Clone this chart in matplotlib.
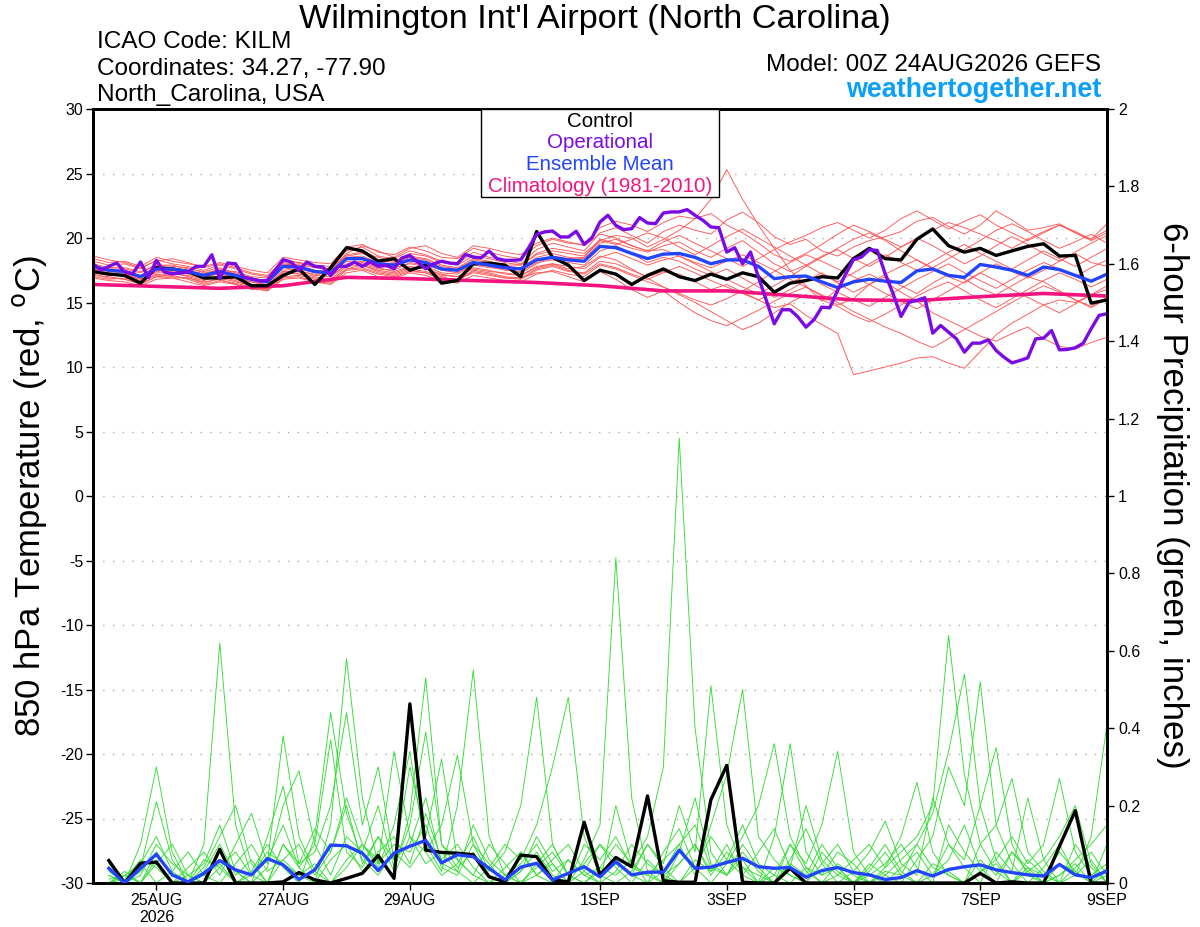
"""
GEFS meteogram for Wilmington Int'l Airport: 850 hPa temperature plumes
(red) and 6-hour precipitation plumes (green) with control, operational,
ensemble mean and climatology.
"""

import matplotlib
matplotlib.use("Agg")

import matplotlib.pyplot as plt
from matplotlib.patches import Rectangle
from matplotlib.ticker import FuncFormatter, MultipleLocator
import numpy as np

plt.rcParams["font.family"] = ["Liberation Sans", "DejaVu Sans"]
plt.rcParams["axes.unicode_minus"] = False

# ---------------------------------------------------------------------------
# Data (forecast hours from 00Z 24AUG2026)
# ---------------------------------------------------------------------------
tick_hours = [24, 72, 120, 192, 240, 288, 336, 384]
tick_labels = ["25AUG\n2026", "27AUG", "29AUG", "1SEP", "3SEP", "5SEP", "7SEP", "9SEP"]

# 850 hPa temperature, 6-hourly 00Z 24AUG -> 00Z 9SEP
control_temp = [
    17.4, 17.2, 17.1, 16.5, 17.7, 17.6, 17.4, 16.9, 16.9, 17.0, 16.3, 16.3, 17.1,
    17.6, 16.4, 17.7, 19.25, 19.0, 18.2, 18.4, 17.5, 17.9, 16.5, 16.7, 18.0,
    18.05, 17.9, 17.0, 20.5, 18.5, 17.9, 16.7, 17.5, 17.2, 16.4, 17.1, 17.6, 17.0,
    16.7, 17.2, 16.8, 17.3, 17.0, 15.8, 16.5,
    16.7, 17.0, 16.9, 18.4, 19.2, 18.4, 18.3, 19.9, 20.7, 19.4, 18.9, 19.2, 18.65,
    19.0, 19.35, 19.55, 18.6, 18.65, 14.95, 15.2,
]
mean_temp = [
    17.8, 17.5, 17.4, 17.0, 17.6, 17.6, 17.4, 17.1, 17.4, 17.1, 16.8, 16.6, 17.8,
    17.75, 17.4, 17.3, 18.4, 18.4, 18.0, 17.9, 18.3, 18.1, 17.6, 17.5, 18.1,
    17.9, 17.7, 17.6, 18.3, 18.5, 18.3, 18.2, 19.35, 19.25, 18.8, 18.4, 18.75, 18.8,
    18.5, 18.0, 18.3, 18.3, 17.8, 16.85, 17.0,
    17.05, 16.6, 16.15, 16.6, 16.8, 16.65, 16.55, 17.45, 17.6, 17.1, 16.95, 17.95,
    17.75, 17.5, 17.1, 17.75, 17.55, 17.1, 16.65, 17.2,
]
# operational run, 3-hourly
oper_temp = [
    18.0, 17.5, 17.8, 18.06, 17.36, 17.23, 18.14, 16.92, 18.27, 17.36, 17.23, 17.28,
    17.36, 17.8, 17.8, 18.7, 16.84, 18.06, 18.0, 16.97, 16.84, 16.66, 16.71, 17.49,
    18.32, 18.14, 17.49, 18.14, 17.8, 17.75, 17.1, 17.8, 17.8, 18.14, 17.8, 18.14,
    17.8, 17.88, 17.62, 18.45, 18.65, 18.14, 17.62, 18.0, 18.2, 18.06, 18.0, 18.73,
    18.52,
    18.47, 18.99, 18.4, 18.27, 18.27, 18.32, 19.25, 20.28, 20.47, 20.54,
    20.08, 20.08, 20.52, 19.51, 20.03, 21.24, 21.76, 20.98, 20.65, 20.72,
    21.58, 21.16, 21.11, 21.94, 22.02, 22.02, 22.2, 21.76, 21.37, 20.85,
    20.8, 18.91, 19.25, 18.0, 18.91, 16.97, 15.16, 13.35, 14.44, 14.44,
    13.87, 13.09, 13.66, 14.64, 14.59, 15.94, 17.2, 18.32, 18.52, 19.09,
    19.04, 17.23, 15.68, 13.92, 15.03, 15.16, 15.37, 12.62, 13.22, 12.7,
    12.18, 11.15, 11.85, 11.85, 12.1, 11.28, 10.76, 10.32, 10.5, 10.71,
    12.18, 12.24, 12.83, 11.33, 11.36, 11.49, 11.85, 12.96, 14.0, 14.13,
]
# climatology (1981-2010), daily 00Z
clim_temp = [16.4, 16.25, 16.1, 16.3, 16.95, 16.85, 16.7, 16.55, 16.3,
             15.9, 15.9, 15.55, 15.2, 15.15, 15.45, 15.7, 15.5]

# ensemble members, 6-hourly (values estimated from the plumes)
member_temp = [
    [18.2, 17.9, 18.0, 17.6, 18.3, 18.0, 17.8, 17.5, 17.9, 17.6, 17.2, 17.0, 18.3,
     18.1, 17.9, 17.8, 19.0, 19.3, 18.6, 18.4, 19.0, 18.7, 18.2, 18.0, 18.9,
     18.5, 18.3, 18.0, 19.1, 19.6, 19.3, 19.0, 20.4, 20.8, 20.2, 19.6, 20.5, 21.0, 20.6, 20.3, 21.4,
     22.0, 21.2, 20.1, 19.5, 19.9, 19.0, 18.6, 19.3, 19.8, 20.1, 20.5, 21.3, 21.6, 20.9, 20.3, 21.0,
     22.1, 21.4, 20.6, 20.8, 21.1, 20.4, 19.9, 21.1],
    [17.2, 16.9, 16.8, 16.4, 17.0, 17.1, 16.8, 16.4, 16.7, 16.5, 16.2, 15.9, 16.9,
     17.0, 16.6, 16.5, 17.5, 17.6, 17.2, 17.0, 17.4, 17.3, 16.9, 16.8, 17.3,
     17.1, 16.9, 16.8, 17.5, 17.8, 17.4, 17.3, 18.2, 18.0, 17.5, 17.0, 17.4, 17.2, 16.6, 16.0, 16.4,
     15.8, 15.2, 14.6, 14.9, 14.0, 13.3, 12.6, 9.4, 9.7, 10.0, 10.3, 10.7, 10.8, 10.3, 9.9, 11.2,
     12.5, 13.4, 14.1, 14.8, 15.2, 15.0, 15.6, 16.0],
    [17.6, 17.4, 17.3, 16.9, 17.5, 17.4, 17.2, 16.9, 17.3, 17.0, 16.6, 16.4, 17.7,
     17.5, 17.1, 17.0, 18.0, 18.2, 17.8, 17.7, 18.0, 17.8, 17.3, 17.2, 17.9,
     17.7, 17.6, 17.3, 18.0, 18.6, 18.4, 18.5, 19.8, 20.2, 20.0, 19.3, 19.9, 20.6, 21.5, 23.0, 25.3,
     23.0, 21.0, 19.2, 17.5, 16.3, 15.1, 16.0, 16.7, 17.2, 16.6, 15.8, 15.1, 14.2, 13.6, 13.0, 12.4,
     12.0, 12.6, 13.1, 12.2, 11.6, 11.4, 11.9, 12.3],
    [17.0, 16.8, 16.9, 16.6, 17.2, 17.0, 16.9, 16.6, 16.8, 16.4, 16.0, 16.1, 17.2,
     17.3, 17.0, 16.7, 17.6, 17.9, 17.4, 17.2, 17.6, 17.4, 17.0, 16.7, 17.4,
     17.2, 16.9, 16.9, 17.3, 17.4, 17.0, 16.6, 17.4, 16.8, 16.0, 15.4, 15.9, 15.0, 14.2, 13.6, 13.2,
     13.8, 14.4, 15.1, 15.7, 16.2, 15.5, 14.8, 15.3, 16.4, 17.2, 17.8, 18.3, 17.6, 17.0, 16.5, 17.3,
     18.0, 17.4, 16.9, 17.5, 18.2, 18.8, 18.1, 17.8],
    [17.9, 17.6, 17.6, 17.3, 17.9, 17.8, 17.7, 17.3, 17.5, 17.4, 17.0, 16.9, 18.1,
     17.9, 17.7, 17.5, 18.6, 18.8, 18.3, 18.1, 18.6, 18.4, 17.9, 17.7, 18.4,
     18.2, 17.9, 17.9, 18.7, 19.0, 18.8, 18.6, 19.9, 19.6, 19.2, 18.9, 19.4, 19.7, 19.0, 18.5, 19.2,
     19.8, 18.9, 18.0, 17.4, 17.9, 18.6, 19.1, 18.4, 17.8, 18.5, 19.3, 20.0, 19.4, 18.7, 18.0, 18.6,
     19.4, 20.1, 19.5, 18.8, 18.2, 18.9, 19.6, 20.2],
    [17.5, 17.3, 17.1, 16.8, 17.4, 17.5, 17.3, 17.0, 17.2, 16.9, 16.6, 16.3, 17.5,
     17.6, 17.3, 17.2, 18.2, 18.0, 17.6, 17.5, 18.1, 17.9, 17.5, 17.3, 18.0,
     17.8, 17.5, 17.4, 18.1, 18.3, 18.1, 17.9, 19.0, 19.4, 18.8, 18.1, 18.5, 18.2, 17.6, 17.1, 17.6,
     16.9, 16.2, 15.4, 16.0, 16.7, 17.3, 16.5, 15.8, 16.4, 17.0, 16.3, 15.7, 16.5, 17.2, 16.8, 16.1,
     15.6, 16.3, 17.0, 16.6, 15.9, 15.2, 14.6, 15.3],
    [18.4, 18.1, 18.2, 17.8, 18.5, 18.2, 18.0, 17.8, 18.1, 17.8, 17.5, 17.3, 18.5,
     18.3, 18.1, 18.0, 19.3, 19.5, 18.9, 18.7, 19.3, 19.0, 18.5, 18.4, 19.2,
     18.9, 18.6, 18.4, 19.4, 19.9, 19.6, 19.5, 20.8, 21.3, 21.0, 20.5, 21.2, 21.7, 21.5, 21.9, 21.0,
     20.4, 19.6, 18.7, 18.2, 18.8, 19.5, 20.3, 21.0, 20.5, 19.9, 19.3, 19.9, 20.6, 21.2, 20.8, 20.3,
     19.8, 19.2, 19.9, 20.5, 21.0, 20.4, 19.8, 20.4],
    [17.3, 17.1, 17.2, 16.8, 17.3, 17.3, 17.0, 16.7, 17.1, 16.8, 16.4, 16.2, 17.4,
     17.4, 17.2, 17.0, 17.9, 18.1, 17.7, 17.4, 17.8, 17.6, 17.2, 17.0, 17.6,
     17.4, 17.3, 17.1, 17.8, 18.0, 17.6, 17.8, 18.6, 18.3, 17.6, 16.9, 16.2, 15.6, 15.0, 14.3, 13.6,
     12.9, 13.4, 14.2, 15.0, 15.6, 15.2, 14.7, 14.0, 13.5, 14.1, 14.8, 15.5, 16.1, 16.6, 15.9, 15.2,
     14.6, 15.3, 16.0, 16.7, 17.3, 16.8, 16.2, 16.8],
    [17.7, 17.5, 17.5, 17.1, 17.8, 17.7, 17.5, 17.2, 17.6, 17.3, 16.9, 16.7, 18.0,
     17.8, 17.5, 17.4, 18.5, 18.6, 18.1, 18.0, 18.5, 18.3, 17.8, 17.6, 18.3,
     18.1, 17.8, 17.7, 18.5, 18.8, 18.5, 18.4, 19.6, 19.9, 19.4, 19.0, 19.1, 18.6, 18.0, 17.4, 16.8,
     16.2, 15.7, 16.3, 17.0, 17.8, 18.5, 19.2, 19.9, 20.4, 19.8, 19.0, 18.3, 17.7, 18.4, 19.1, 19.8,
     20.6, 21.1, 20.5, 19.8, 19.2, 19.7, 20.3, 19.6],
    [16.9, 16.7, 16.6, 16.3, 16.8, 16.9, 16.6, 16.3, 16.6, 16.4, 16.1, 15.9, 16.8,
     16.9, 16.6, 16.4, 17.3, 17.5, 17.0, 16.9, 17.3, 17.1, 16.7, 16.5, 17.1,
     16.9, 16.7, 16.6, 17.2, 17.5, 17.2, 17.0, 17.9, 17.6, 17.1, 16.6, 16.2, 15.7, 15.2, 14.8, 15.3,
     15.9, 16.6, 17.4, 18.1, 18.7, 18.2, 17.6, 17.0, 16.4, 15.7, 15.1, 14.5, 15.2, 15.9, 16.6, 17.3,
     16.7, 16.0, 15.4, 14.8, 14.2, 14.9, 15.6, 16.3],
    [18.6, 18.3, 18.1, 17.7, 18.2, 18.4, 18.1, 17.7, 18.0, 17.7, 17.3, 17.1, 18.2,
     18.1, 17.8, 17.6, 18.8, 19.4, 19.0, 18.5, 19.2, 19.4, 18.8, 18.5, 19.4,
     19.2, 18.9, 18.7, 19.6, 20.0, 19.7, 19.4, 20.3, 20.0, 19.4, 19.0, 19.7, 20.2, 19.6, 19.0, 18.4,
     17.8, 18.4, 19.1, 19.7, 20.2, 20.8, 21.2, 20.6, 20.0, 20.6, 21.5, 22.1, 21.4, 20.7, 21.3, 21.8,
     21.0, 20.4, 19.8, 20.4, 21.0, 20.5, 19.9, 20.6],
    [17.4, 17.2, 17.0, 16.7, 17.1, 17.2, 17.1, 16.8, 17.0, 16.7, 16.3, 16.1, 17.3,
     17.2, 16.9, 16.8, 17.8, 17.9, 17.5, 17.3, 17.7, 17.6, 17.1, 17.0, 17.7,
     17.5, 17.2, 17.1, 17.7, 18.0, 17.8, 17.6, 18.5, 18.9, 18.4, 17.9, 18.3, 18.6, 18.1, 17.7, 18.2,
     18.7, 18.1, 17.5, 16.8, 16.2, 15.6, 15.0, 14.3, 13.7, 13.1, 12.6, 12.0, 11.5, 12.2, 12.9, 13.6,
     14.3, 15.0, 15.7, 16.3, 15.8, 15.2, 14.7, 15.4],
    [18.0, 17.7, 17.7, 17.4, 17.9, 17.9, 17.6, 17.4, 17.7, 17.2, 16.8, 16.6, 17.9,
     18.0, 17.8, 17.6, 18.7, 18.9, 18.5, 18.2, 18.8, 18.6, 18.1, 17.9, 18.6,
     18.4, 18.1, 17.9, 18.8, 19.2, 19.0, 18.8, 19.8, 19.5, 19.9, 20.4, 20.0, 19.3, 18.7, 19.4, 20.1,
     20.7, 20.0, 19.3, 18.6, 17.9, 17.2, 16.6, 17.3, 18.0, 18.7, 18.1, 17.5, 18.2, 18.9, 19.5, 18.8,
     18.2, 17.6, 18.3, 19.0, 18.4, 17.8, 18.5, 19.2],
    [17.1, 17.0, 16.8, 16.5, 17.0, 16.9, 16.9, 16.5, 16.9, 16.6, 16.3, 16.0, 17.0,
     17.1, 16.8, 16.6, 17.6, 17.7, 17.3, 17.1, 17.5, 17.3, 16.8, 16.7, 17.5,
     17.3, 17.0, 16.9, 17.6, 17.9, 17.5, 17.2, 18.0, 17.7, 17.2, 16.8, 17.3, 17.8, 17.3, 16.7, 16.2,
     15.7, 15.2, 15.8, 16.5, 17.1, 16.4, 15.8, 15.2, 14.7, 15.4, 16.1, 16.8, 17.4, 18.0, 17.3, 16.7,
     16.1, 16.8, 17.5, 18.1, 17.6, 17.0, 17.7, 18.3],
]

# 6-hour precipitation (inches), 06Z 24AUG -> 00Z 9SEP
control_precip = [
    0.058, 0.0, 0.051, 0.054, 0.0, 0.0, 0.0, 0.087, 0.0, 0.0, 0.0, 0.003,
    0.027, 0.008, 0.0, 0.012, 0.025, 0.071, 0.012, 0.463, 0.085, 0.079, 0.077, 0.073,
    0.016, 0.003, 0.072, 0.068, 0.008, 0.003, 0.157, 0.021, 0.066, 0.042, 0.225, 0.006,
    0.002, 0.002, 0.215, 0.304, 0.002, 0.0, 0.0,
    0.038, 0.0, 0.0, 0.0, 0.0, 0.0, 0.0, 0.0, 0.0, 0.0, 0.0, 0.0,
    0.025, 0.0, 0.003, 0.0, 0.0, 0.095, 0.187, 0.0, 0.0,
]
mean_precip = [
    0.038, 0.0, 0.038, 0.074, 0.021, 0.003, 0.025, 0.058, 0.034, 0.021, 0.063, 0.047,
    0.009, 0.034, 0.098, 0.096, 0.077, 0.032, 0.077, 0.095, 0.11, 0.052, 0.073, 0.068,
    0.038, 0.008, 0.041, 0.051, 0.008, 0.025, 0.042, 0.016, 0.055, 0.021, 0.028, 0.028,
    0.085, 0.038, 0.041, 0.053, 0.064, 0.042, 0.038,
    0.04, 0.015, 0.032, 0.04, 0.027, 0.021, 0.009, 0.014, 0.032, 0.018, 0.035, 0.042,
    0.047, 0.034, 0.027, 0.021, 0.018, 0.048, 0.021, 0.014, 0.031,
]
member_precip = [
    [0.02, 0.00, 0.05, 0.12, 0.03, 0.00, 0.10, 0.62, 0.15, 0.02, 0.00, 0.06, 0.10, 0.02, 0.08, 0.20,
     0.05, 0.12, 0.03, 0.18, 0.53, 0.10, 0.04, 0.08, 0.02, 0.00, 0.03, 0.12, 0.05, 0.00, 0.06, 0.15,
     0.84, 0.22, 0.03, 0.00, 0.05, 0.10, 0.02, 0.08, 0.04, 0.00, 0.02, 0.10, 0.03, 0.00, 0.05, 0.02,
     0.00, 0.04, 0.08, 0.12, 0.20, 0.64, 0.28, 0.10, 0.03, 0.00, 0.06, 0.02, 0.00, 0.04, 0.08, 0.02],
    [0.00, 0.03, 0.00, 0.08, 0.02, 0.00, 0.04, 0.12, 0.20, 0.05, 0.00, 0.10, 0.04, 0.00, 0.15, 0.58,
     0.22, 0.05, 0.10, 0.08, 0.15, 0.04, 0.02, 0.10, 0.05, 0.00, 0.08, 0.02, 0.00, 0.06, 0.02, 0.04,
     0.10, 0.05, 0.12, 0.30, 1.15, 0.40, 0.08, 0.02, 0.06, 0.00, 0.04, 0.02, 0.00, 0.08, 0.03, 0.00,
     0.05, 0.02, 0.00, 0.06, 0.12, 0.30, 0.20, 0.52, 0.15, 0.05, 0.00, 0.04, 0.10, 0.02, 0.12, 0.41],
    [0.05, 0.00, 0.10, 0.30, 0.08, 0.00, 0.02, 0.05, 0.00, 0.03, 0.10, 0.04, 0.00, 0.12, 0.44, 0.18,
     0.06, 0.02, 0.08, 0.04, 0.10, 0.03, 0.20, 0.55, 0.12, 0.02, 0.00, 0.05, 0.10, 0.02, 0.00, 0.04,
     0.02, 0.06, 0.00, 0.03, 0.10, 0.02, 0.15, 0.28, 0.50, 0.12, 0.06, 0.02, 0.00, 0.05, 0.10, 0.03,
     0.00, 0.02, 0.06, 0.10, 0.18, 0.34, 0.54, 0.20, 0.06, 0.00, 0.03, 0.00, 0.02, 0.05, 0.00, 0.10],
    [0.01, 0.02, 0.00, 0.06, 0.00, 0.04, 0.08, 0.02, 0.10, 0.18, 0.05, 0.38, 0.12, 0.03, 0.00, 0.06,
     0.10, 0.04, 0.15, 0.34, 0.08, 0.02, 0.05, 0.12, 0.03, 0.08, 0.20, 0.48, 0.10, 0.02, 0.00, 0.03,
     0.05, 0.02, 0.10, 0.04, 0.00, 0.06, 0.03, 0.10, 0.02, 0.00, 0.12, 0.36, 0.08, 0.02, 0.04, 0.00,
     0.03, 0.08, 0.02, 0.00, 0.05, 0.03, 0.00, 0.10, 0.15, 0.27, 0.08, 0.03, 0.00, 0.02, 0.06, 0.00],
    [0.03, 0.00, 0.02, 0.10, 0.05, 0.02, 0.00, 0.08, 0.03, 0.00, 0.12, 0.25, 0.05, 0.08, 0.20, 0.44,
     0.15, 0.30, 0.06, 0.10, 0.22, 0.05, 0.03, 0.00, 0.04, 0.10, 0.06, 0.15, 0.30, 0.48, 0.12, 0.02,
     0.00, 0.03, 0.10, 0.05, 0.20, 0.08, 0.51, 0.15, 0.04, 0.02, 0.00, 0.10, 0.05, 0.15, 0.34, 0.08,
     0.02, 0.00, 0.04, 0.08, 0.02, 0.10, 0.06, 0.20, 0.35, 0.10, 0.02, 0.00, 0.05, 0.03, 0.00, 0.02],
    [0.00, 0.01, 0.06, 0.04, 0.00, 0.02, 0.05, 0.15, 0.03, 0.00, 0.04, 0.20, 0.29, 0.10, 0.02, 0.12,
     0.08, 0.20, 0.04, 0.15, 0.39, 0.10, 0.06, 0.02, 0.00, 0.04, 0.08, 0.02, 0.05, 0.00, 0.03, 0.10,
     0.06, 0.02, 0.00, 0.08, 0.14, 0.04, 0.00, 0.05, 0.12, 0.20, 0.36, 0.12, 0.04, 0.00, 0.02, 0.06,
     0.10, 0.04, 0.12, 0.26, 0.08, 0.02, 0.00, 0.03, 0.06, 0.12, 0.05, 0.10, 0.27, 0.08, 0.02, 0.05],
    [0.02, 0.00, 0.04, 0.21, 0.06, 0.00, 0.03, 0.10, 0.02, 0.06, 0.00, 0.10, 0.05, 0.14, 0.08, 0.22,
     0.10, 0.05, 0.34, 0.12, 0.08, 0.15, 0.33, 0.10, 0.02, 0.00, 0.03, 0.08, 0.02, 0.00, 0.10, 0.06,
     0.12, 0.04, 0.02, 0.00, 0.08, 0.22, 0.05, 0.02, 0.10, 0.04, 0.00, 0.06, 0.14, 0.05, 0.00, 0.03,
     0.08, 0.16, 0.05, 0.02, 0.22, 0.10, 0.04, 0.00, 0.08, 0.03, 0.22, 0.06, 0.00, 0.10, 0.04, 0.00],
    [0.00, 0.02, 0.00, 0.05, 0.10, 0.02, 0.00, 0.04, 0.08, 0.02, 0.06, 0.15, 0.04, 0.10, 0.37, 0.08,
     0.04, 0.12, 0.06, 0.30, 0.12, 0.32, 0.06, 0.02, 0.10, 0.05, 0.00, 0.02, 0.06, 0.10, 0.03, 0.00,
     0.03, 0.10, 0.05, 0.02, 0.00, 0.04, 0.12, 0.06, 0.02, 0.08, 0.14, 0.04, 0.20, 0.06, 0.02, 0.00,
     0.04, 0.10, 0.03, 0.00, 0.02, 0.06, 0.15, 0.04, 0.00, 0.08, 0.03, 0.06, 0.12, 0.20, 0.05, 0.00],
    [0.04, 0.00, 0.03, 0.08, 0.02, 0.00, 0.06, 0.04, 0.00, 0.02, 0.08, 0.05, 0.02, 0.00, 0.06, 0.10,
     0.03, 0.08, 0.12, 0.05, 0.18, 0.06, 0.10, 0.04, 0.00, 0.02, 0.05, 0.10, 0.03, 0.06, 0.02, 0.00,
     0.20, 0.05, 0.02, 0.06, 0.10, 0.15, 0.04, 0.02, 0.08, 0.03, 0.00, 0.05, 0.02, 0.10, 0.04, 0.00,
     0.02, 0.05, 0.10, 0.04, 0.00, 0.15, 0.08, 0.03, 0.05, 0.00, 0.04, 0.02, 0.08, 0.03, 0.00, 0.04],
    [0.00, 0.02, 0.05, 0.00, 0.03, 0.08, 0.02, 0.00, 0.05, 0.10, 0.03, 0.06, 0.02, 0.05, 0.00, 0.04,
     0.10, 0.06, 0.02, 0.12, 0.05, 0.08, 0.03, 0.15, 0.06, 0.02, 0.00, 0.04, 0.08, 0.02, 0.05, 0.10,
     0.04, 0.00, 0.06, 0.02, 0.05, 0.10, 0.03, 0.06, 0.15, 0.05, 0.02, 0.00, 0.04, 0.02, 0.08, 0.05,
     0.00, 0.03, 0.02, 0.10, 0.04, 0.02, 0.00, 0.06, 0.02, 0.08, 0.04, 0.00, 0.02, 0.06, 0.10, 0.15],
]

# forecast hours for each series
temp_hours = np.arange(len(control_temp)) * 6
oper_hours = np.arange(len(oper_temp)) * 3
clim_hours = np.arange(len(clim_temp)) * 24
precip_hours = (np.arange(len(control_precip)) + 1) * 6

# ---------------------------------------------------------------------------
# Colours
# ---------------------------------------------------------------------------
CLR_RED = "#ff5555"
CLR_GREEN = "#33dd33"
CLR_CONTROL = "#000000"
CLR_OPER = "#7a0ae6"
CLR_MEAN = "#2244ff"
CLR_CLIM = "#f5147f"
CLR_SITE = "#0aa0fa"

# ---------------------------------------------------------------------------
# Canvas
# ---------------------------------------------------------------------------
W, H = 1200, 927
fig = plt.figure(figsize=(W / 100, H / 100), dpi=100)
ax = fig.add_axes([93 / W, 1 - 883 / H, (1107 - 93) / W, (883 - 109) / H])
ax2 = ax.twinx()


def fx(px):
    return px / W


def fy(py):
    return 1 - py / H


# temperature axis
ax.set_xlim(0, 384)
ax.set_ylim(-30, 30)
ax.yaxis.set_major_locator(MultipleLocator(5))
ax.set_xticks(tick_hours)
ax.set_xticklabels(tick_labels)
ax.tick_params(axis="both", direction="out", length=5, width=1, labelsize=11.5, pad=2)
for v in range(-25, 30, 5):
    ax.axhline(v, color="#aaaaaa", lw=1.0, linestyle=(0, (1, 6)), zorder=0)

# precipitation axis
ax2.set_ylim(0, 2)
ax2.yaxis.set_major_locator(MultipleLocator(0.2))
ax2.yaxis.set_major_formatter(FuncFormatter(lambda v, _: f"{v:g}"))
ax2.tick_params(axis="y", direction="out", length=5, width=1, labelsize=11.5, pad=3)

for a in (ax, ax2):
    for s in a.spines.values():
        s.set_linewidth(2.0)

# ---------------------------------------------------------------------------
# Plumes
# ---------------------------------------------------------------------------
for m in member_precip:
    ax2.plot(precip_hours, m, color=CLR_GREEN, lw=0.65, zorder=1)
ax2.plot(precip_hours, control_precip, color=CLR_CONTROL, lw=2.4, zorder=3)
ax2.plot(precip_hours, mean_precip, color=CLR_MEAN, lw=2.4, zorder=4)

for m in member_temp:
    ax.plot(temp_hours, m, color=CLR_RED, lw=0.65, zorder=1)
ax.plot(clim_hours, clim_temp, color=CLR_CLIM, lw=2.6, zorder=2)
ax.plot(temp_hours, control_temp, color=CLR_CONTROL, lw=2.4, zorder=3)
ax.plot(temp_hours, mean_temp, color=CLR_MEAN, lw=2.4, zorder=4)
ax.plot(oper_hours, oper_temp, color=CLR_OPER, lw=2.4, zorder=5)

# ---------------------------------------------------------------------------
# Legend box
# ---------------------------------------------------------------------------
fig.patches.append(Rectangle((fx(481), fy(197)), fx(719 - 481), (197 - 109) / H,
                             transform=fig.transFigure, facecolor="white",
                             edgecolor="black", linewidth=1.0, zorder=5))
legend_rows = [("Control", CLR_CONTROL), ("Operational", CLR_OPER),
               ("Ensemble Mean", CLR_MEAN), ("Climatology (1981-2010)", CLR_CLIM)]
for i, (txt, clr) in enumerate(legend_rows):
    fig.text(fx(600), fy(127 + i * 21.5), txt, ha="center", va="baseline",
             fontsize=14.8, color=clr, zorder=6)

# ---------------------------------------------------------------------------
# Titles and labels
# ---------------------------------------------------------------------------
fig.text(fx(595), fy(28), "Wilmington Int'l Airport (North Carolina)",
         ha="center", va="baseline", fontsize=24.7)
for i, txt in enumerate(["ICAO Code: KILM", "Coordinates: 34.27, -77.90",
                         "North_Carolina, USA"]):
    fig.text(fx(97), fy(48 + i * 26.5), txt, ha="left", va="baseline", fontsize=17.6)
fig.text(fx(1101), fy(71), "Model: 00Z 24AUG2026 GEFS", ha="right",
         va="baseline", fontsize=17.5)
fig.text(fx(1101), fy(97), "weathertogether.net", ha="right", va="baseline",
         fontsize=19.4, weight="bold", color=CLR_SITE)

fig.text(fx(30), fy(496), r"850 hPa Temperature (red, $^{\rm o}$C)", rotation=90,
         ha="center", va="center", fontsize=25)
fig.text(fx(1172), fy(495), "6-hour Precipitation (green, inches)", rotation=270,
         ha="center", va="center", fontsize=25.2)

fig.savefig("out.png", dpi=100, facecolor="white")
plt.close(fig)
